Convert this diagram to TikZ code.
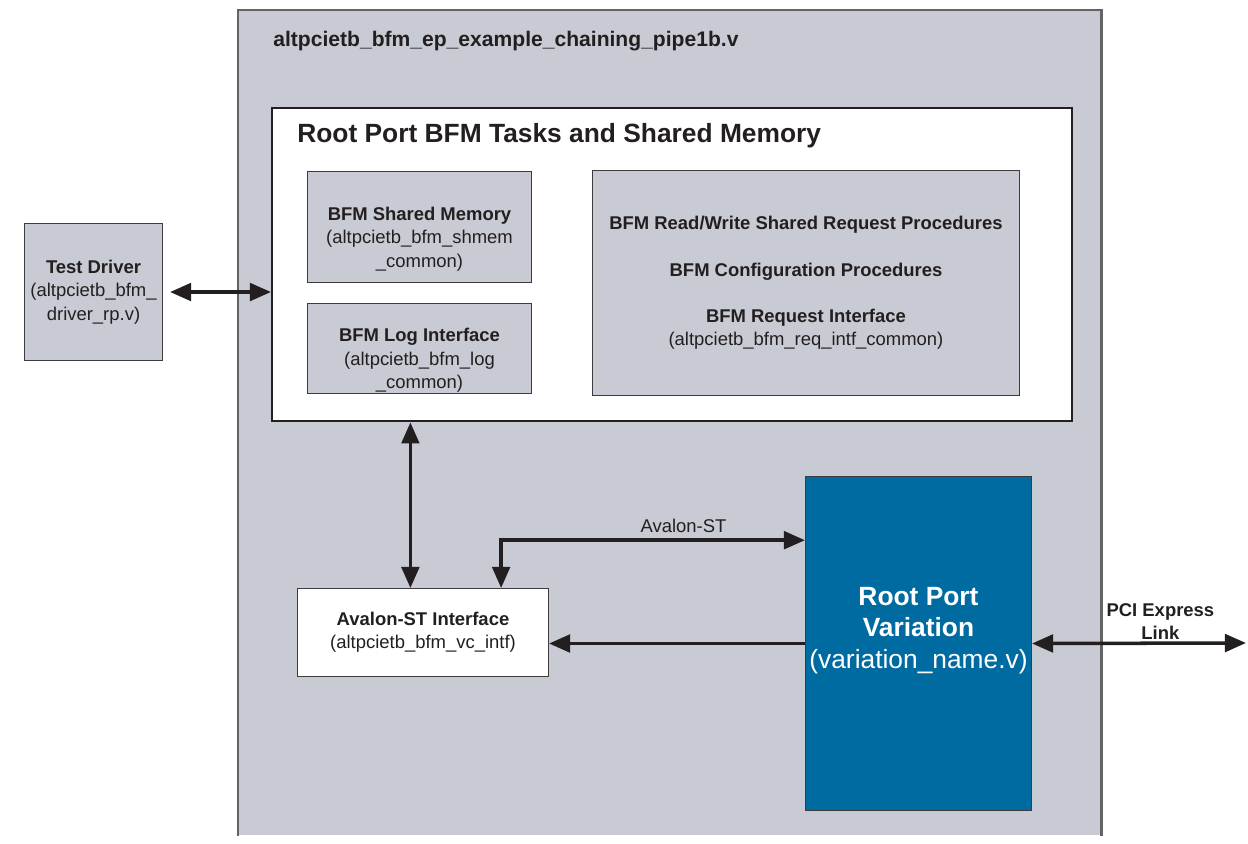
\documentclass[tikz,border=0pt]{standalone}
\usepackage{fontspec}
\setmainfont{Liberation Sans}
\usetikzlibrary{arrows.meta, calc}
\definecolor{bfmgray}{RGB}{200,203,211}
\definecolor{rpblue}{RGB}{0,107,160}
\definecolor{edge}{RGB}{60,60,62}
\definecolor{frame}{RGB}{100,100,102}
\definecolor{ink}{RGB}{35,31,32}
\newcommand\bfmfont{\fontsize{10.5}{13.3}\selectfont}

\begin{document}
\begin{tikzpicture}[x=0.02cm, y=-0.02cm, >={Triangle[length=12pt, width=10pt]},
    font=\bfmfont, text=ink,
    blk/.style={draw=edge, line width=0.6pt, fill=bfmgray, inner sep=0pt, anchor=north west, align=center},
    txt/.style={align=center, inner sep=0pt},
    link/.style={line width=2pt, draw=ink}]
    \useasboundingbox (0,0) rectangle (1248,843);
    % Testbench frame
    \node[fill=bfmgray, inner sep=0pt, anchor=north west, minimum width=17.26cm, minimum height=16.5cm] (tb) at (238,10) {};
    \draw[frame, line width=1.2pt] (tb.south west) -- (tb.north west) -- (tb.north east) -- (tb.south east);
    \node[anchor=base west, inner sep=0pt, font=\fontsize{12}{14}\selectfont\bfseries] (tbname) at (273,46) {altpcietb\_bfm\_ep\_example\_chaining\_pipe1b.v};
    % Test driver
    \node[blk, minimum width=2.76cm, minimum height=2.74cm] (drv) at (24,223) {\textbf{Test Driver}\\(altpcietb\_bfm\_\\driver\_rp.v)};
    % Root port BFM tasks and shared memory
    \node[blk, fill=white, draw=ink, line width=1.4pt, minimum width=16cm, minimum height=6.26cm] (tasks) at (271,107) {};
    \node[anchor=base west, inner sep=0pt, font=\fontsize{15}{18}\selectfont\bfseries] (taskname) at (297,142) {Root Port BFM Tasks and Shared Memory};
    \node[blk, minimum width=4.48cm, minimum height=2.22cm] (shmem) at (307,171) {};
    \node[txt] (shmemtxt) at ($(shmem.center)+(0,12)$) {\textbf{BFM Shared Memory}\\(altpcietb\_bfm\_shmem\\\_common)};
    \node[blk, minimum width=4.48cm, minimum height=1.8cm] (log) at (307,303) {};
    \node[txt] (logtxt) at ($(log.center)+(0,12)$) {\textbf{BFM Log Interface}\\(altpcietb\_bfm\_log\\\_common)};
    \node[blk, minimum width=8.54cm, minimum height=4.5cm] (proc) at (592,170) {\textbf{BFM Read/Write Shared Request Procedures}\\[13pt]\textbf{BFM Configuration Procedures}\\[13pt]\textbf{BFM Request Interface}\\(altpcietb\_bfm\_req\_intf\_common)};
    % Avalon-ST interface
    \node[blk, fill=white, minimum width=5.02cm, minimum height=1.76cm] (vc) at (297,588) {\textbf{Avalon-ST Interface}\\(altpcietb\_bfm\_vc\_intf)};
    % Root port variation
    \node[blk, fill=rpblue, minimum width=4.52cm, minimum height=6.68cm] (rp) at (805,476) {};
    \node[txt, text=white, font=\fontsize{15}{18}\selectfont] (rpname) at ($(rp.center)+(0,-13)$) {\textbf{Root Port}\\\textbf{Variation}\\(variation\_name.v)};
    % Links
    \coordinate (vcup) at ($(vc.north west)!0.45!(vc.north east)$);
    \coordinate (vcst) at ($(vc.north west)!0.81!(vc.north east)$);
    \coordinate (rpst) at ($(rp.north west)!0.1916!(rp.south west)$);
    \coordinate (pcie) at (1246,643);
    \draw[<->, link, shorten <=4pt] (drv.east) -- (drv.east -| tasks.west);
    \draw[<->, link] (vcup) -- (vcup |- tasks.south);
    \draw[<->, link] (rpst) -| (vcst) node[pos=0.2, above] {Avalon-ST};
    \draw[->, link] (rp.west) -- (rp.west -| vc.east);
    \draw[<->, link] (rp.east) -- (pcie) node[pos=0.6, above, inner sep=1pt, align=center, font=\bfmfont\bfseries] {PCI Express\\Link};
\end{tikzpicture}
\end{document}
